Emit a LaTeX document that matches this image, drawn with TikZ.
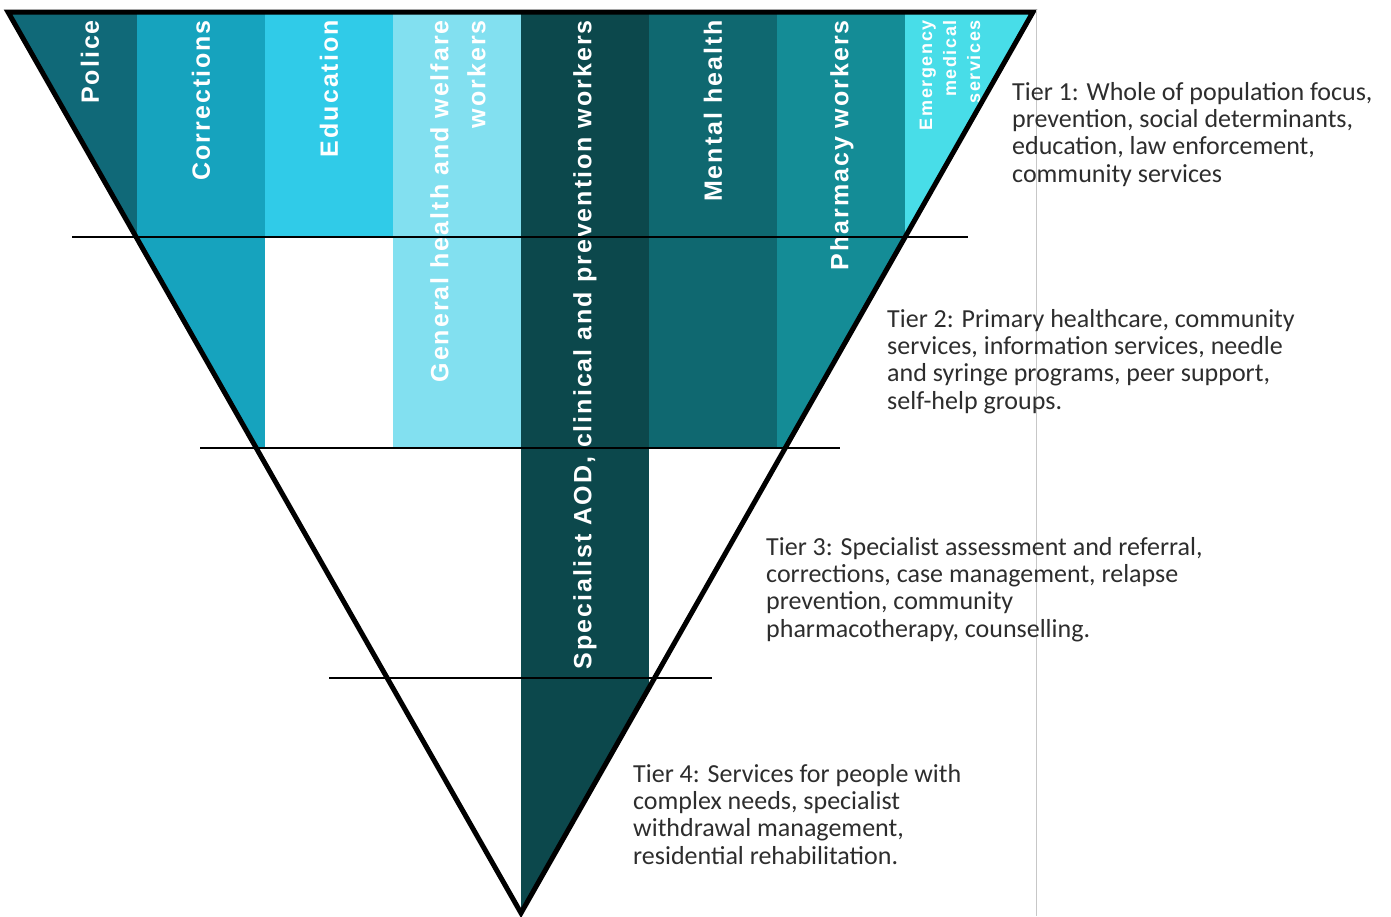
\documentclass[tikz,border=0pt]{standalone}
\usepackage{fontspec}
\setmainfont{Carlito}
\newfontfamily\labelfont{Liberation Sans Bold}[LetterSpace=8]
\newfontfamily\emsfont{Liberation Sans Bold}[LetterSpace=9]
\usetikzlibrary{positioning}
\definecolor{police}{RGB}{16, 105, 120}
\definecolor{corrections}{RGB}{22, 163, 190}
\definecolor{education}{RGB}{48, 203, 232}
\definecolor{general}{RGB}{130, 224, 240}
\definecolor{specialist}{RGB}{12, 72, 76}
\definecolor{mental}{RGB}{15, 104, 112}
\definecolor{pharmacy}{RGB}{20, 140, 150}
\definecolor{emergency}{RGB}{72, 221, 232}
\definecolor{tiergrey}{RGB}{45, 45, 45}
\tikzset{
    column_label/.style={rotate=90, anchor=east, inner sep=0pt, text=white, align=right, font=\labelfont\fontsize{25}{37}\selectfont},
    small_label/.style={column_label, font=\emsfont\fontsize{18}{24}\selectfont},
    tier_text/.style={anchor=north west, inner sep=0pt, align=left, text=tiergrey, font=\fontsize{26}{27.3}\selectfont},
    tier_line/.style={line width=2.4pt, color=black},
    outline/.style={line width=5pt, color=black, line join=miter}
}
\begin{document}
\begin{tikzpicture}[x=1pt, y=-1pt]

    % Canvas
    \useasboundingbox (0,0) rectangle (1391,916);

    % Triangle corners
    \coordinate (tl) at (8,12);
    \coordinate (tr) at (1033,12);
    \coordinate (apex) at (521,913);

    % Column fills
    \begin{scope}
        \clip (tl) -- (tr) -- (apex) -- cycle;
        \fill [police]      (0,0)   rectangle (137,237);
        \fill [corrections] (137,0) rectangle (265,448);
        \fill [education]   (265,0) rectangle (393,237);
        \fill [general]     (393,0) rectangle (521,448);
        \fill [specialist]  (521,0) rectangle (649,916);
        \fill [mental]      (649,0) rectangle (777,448);
        \fill [pharmacy]    (777,0) rectangle (905,448);
        \fill [emergency]   (905,0) rectangle (1040,237);
    \end{scope}

    % Column labels
    \node (policelbl)      [column_label] at (90,20)  {Police};
    \node (correctionslbl) [column_label] at (201,20) {Corrections};
    \node (educationlbl)   [column_label] at (329,20) {Education};
    \node (generallbl)     [column_label] at (458,20) {General health and welfare\\workers};
    \node (specialistlbl)  [column_label] at (585,20) {Specialist AOD, clinical and prevention workers};
    \node (mentallbl)      [column_label] at (713,20) {Mental health};
    \node (pharmacylbl)    [column_label] at (842,20) {Pharmacy workers};
    \node (emergencylbl)   [small_label]  at (950,20) {Emergency\\medical\\services};

    % Tier boundaries
    \coordinate (t1l) at (72,237);
    \coordinate (t1r) at (968,237);
    \coordinate (t2l) at (200,448);
    \coordinate (t2r) at (840,448);
    \coordinate (t3l) at (329,678);
    \coordinate (t3r) at (712,678);
    \draw [tier_line] (t1l) -- (t1r);
    \draw [tier_line] (t2l) -- (t2r);
    \draw [tier_line] (t3l) -- (t3r);

    % Outline
    \draw [outline] (tl) -- (tr) -- (apex) -- cycle;

    % Page edge
    \coordinate (edgetop) at (1036,10);
    \coordinate (edgebot) at (1036,916);
    \draw [color=black!22, line width=0.8pt] (edgetop) -- (edgebot);

    % Tier descriptions
    \node (tier1) [tier_text] at (1012,82) {Tier 1: Whole of population focus,\\prevention, social determinants,\\education, law enforcement,\\community services};
    \node (tier2) [tier_text] at (887,309) {Tier 2: Primary healthcare, community\\services, information services, needle\\and syringe programs, peer support,\\self-help groups.};
    \node (tier3) [tier_text] at (766,537) {Tier 3: Specialist assessment and referral,\\corrections, case management, relapse\\prevention, community\\pharmacotherapy, counselling.};
    \node (tier4) [tier_text] at (633,764) {Tier 4: Services for people with\\complex needs, specialist\\withdrawal management,\\residential rehabilitation.};

\end{tikzpicture}
\end{document}
